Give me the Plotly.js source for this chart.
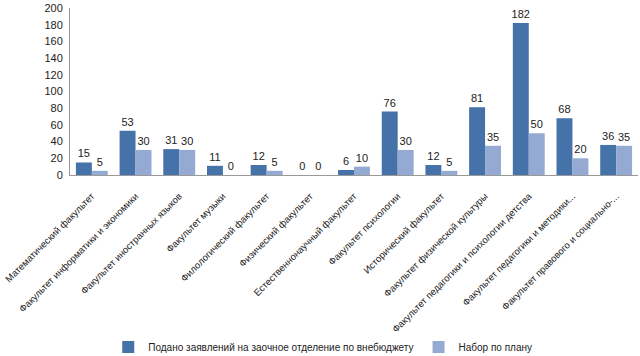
<!DOCTYPE html>
<html><head><meta charset="utf-8">
<script src="https://cdn.plot.ly/plotly-3.0.1.min.js"></script>
<style>html,body{margin:0;padding:0;background:#fff}#c{width:640px;height:356px}</style>
</head><body><div id="c"></div>
<script>
const categories = [
  "Математический факультет",
  "Факультет информатики и экономики",
  "Факультет иностранных языков",
  "Факультет музыки",
  "Филологический факультет",
  "Физический факультет",
  "Естественнонаучный факультет",
  "Факультет психологии",
  "Исторический факультет",
  "Факультет физической культуры",
  "Факультет педагогики и психологии детства",
  "Факультет педагогики и методики...",
  "Факультет правового и социально-..."
];
const applied = [15, 53, 31, 11, 12, 0, 6, 76, 12, 81, 182, 68, 36];
const planned = [5, 30, 30, 0, 5, 0, 10, 30, 5, 35, 50, 20, 35];
const seriesNames = ["Подано заявлений на заочное отделение по внебюджету", "Набор по плану"];

const font = "Liberation Sans, Arial, sans-serif";
const data = [
  {type:"bar", x:categories, y:applied, name:seriesNames[0], marker:{color:"#4672AA"},
   text:applied.map(String), textposition:"outside", cliponaxis:false, constraintext:"none",
   textfont:{size:11,color:"#222"}},
  {type:"bar", x:categories, y:planned, name:seriesNames[1], marker:{color:"#95AAD2"},
   text:planned.map(String), textposition:"outside", cliponaxis:false, constraintext:"none",
   textfont:{size:11,color:"#222"}}
];
const layout = {
  width:640, height:356,
  margin:{l:70, r:2, t:8, b:181},
  font:{family:font, size:10, color:"#222"},
  paper_bgcolor:"#fff", plot_bgcolor:"#fff",
  bargap:0.27, bargroupgap:0,
  showlegend:true,
  legend:{orientation:"h", x:0.445, xanchor:"center", yref:"container", y:0.025, yanchor:"middle",
          font:{size:10}, itemwidth:30, tracegroupgap:0, borderwidth:0},
  xaxis:{tickangle:-45, showline:true, linecolor:"#999", linewidth:1, ticks:"",
         tickfont:{size:9.5}, automargin:false, ticklabelstandoff:11},
  yaxis:{range:[0,200], dtick:20, showgrid:false, zeroline:false, showline:true,
         linecolor:"#999", linewidth:1, ticks:"", tickfont:{size:11}, automargin:false, ticklabelstandoff:4}
};
Plotly.newPlot("c", data, layout, {displayModeBar:false, staticPlot:true});
</script></body></html>
